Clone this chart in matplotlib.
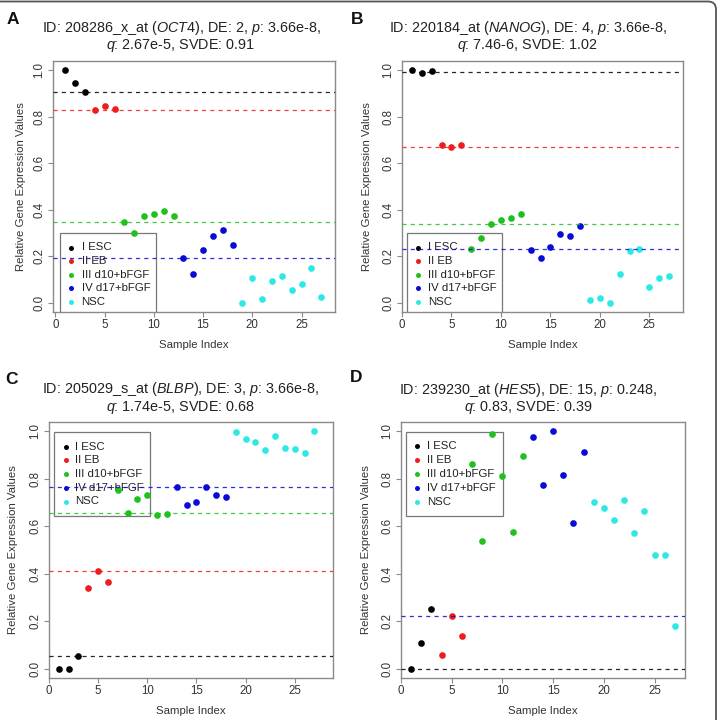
import matplotlib.pyplot as plt
import numpy as np
from matplotlib.patches import FancyBboxPatch, Rectangle

plt.rcParams["font.family"] = "Liberation Sans"
plt.rcParams["mathtext.fontset"] = "custom"
plt.rcParams["mathtext.rm"] = "Liberation Sans"
plt.rcParams["mathtext.it"] = "Liberation Sans:italic"

W, H = 719, 720  # figure size in pixels (dpi 100)

# ----------------------------------------------------------------- data
group_names = ["I ESC", "II EB", "III d10+bFGF", "IV d17+bFGF", "NSC"]
group_colors = ["#000000", "#ee1c1c", "#1fc01f", "#0a0ad6", "#2ee8e8"]
group_sizes = [3, 3, 6, 6, 9]

oct4 = [1.0, 0.947, 0.905, 0.828, 0.848, 0.833,
        0.348, 0.299, 0.371, 0.382, 0.395, 0.371,
        0.193, 0.124, 0.227, 0.286, 0.312, 0.249,
        0.0, 0.106, 0.017, 0.093, 0.116, 0.055, 0.080, 0.149, 0.023]
nanog = [1.0, 0.990, 0.999, 0.680, 0.668, 0.680,
         0.230, 0.277, 0.338, 0.356, 0.364, 0.382,
         0.228, 0.193, 0.241, 0.296, 0.289, 0.328,
         0.010, 0.020, 0.0, 0.124, 0.223, 0.231, 0.066, 0.105, 0.115]
blbp = [0.0, 0.0, 0.054, 0.338, 0.412, 0.366,
        0.753, 0.655, 0.716, 0.733, 0.648, 0.651,
        0.766, 0.691, 0.703, 0.766, 0.732, 0.723,
        0.996, 0.970, 0.956, 0.921, 0.983, 0.929, 0.924, 0.910, 1.0]
hes5 = [0.0, 0.107, 0.250, 0.058, 0.222, 0.137,
        0.864, 0.537, 0.990, 0.814, 0.576, 0.897,
        0.976, 0.774, 1.0, 0.815, 0.612, 0.912,
        0.701, 0.678, 0.627, 0.712, 0.572, 0.664, 0.480, 0.480, 0.181]

# dashed reference levels per panel: group index -> value
oct4_levels = {0: 0.905, 1: 0.828, 2: 0.348, 3: 0.193}
nanog_levels = {0: 0.994, 1: 0.671, 2: 0.338, 3: 0.230}
blbp_levels = {0: 0.054, 1: 0.412, 2: 0.655, 3: 0.766}
hes5_levels = {0: 0.0, 3: 0.222}

panels = [
    dict(letter="A", values=oct4, levels=oct4_levels,
         line1=r"ID: 208286_x_at ($\mathit{OCT4}$), DE: 2, $\mathit{p}$: 3.66e-8,",
         line2=r"$\mathit{q}$: 2.67e-5, SVDE: 0.91"),
    dict(letter="B", values=nanog, levels=nanog_levels,
         line1=r"ID: 220184_at ($\mathit{NANOG}$), DE: 4, $\mathit{p}$: 3.66e-8,",
         line2=r"$\mathit{q}$: 7.46-6, SVDE: 1.02"),
    dict(letter="C", values=blbp, levels=blbp_levels,
         line1=r"ID: 205029_s_at ($\mathit{BLBP}$), DE: 3, $\mathit{p}$: 3.66e-8,",
         line2=r"$\mathit{q}$: 1.74e-5, SVDE: 0.68"),
    dict(letter="D", values=hes5, levels=hes5_levels,
         line1=r"ID: 239230_at ($\mathit{HES5}$), DE: 15, $\mathit{p}$: 0.248,",
         line2=r"$\mathit{q}$: 0.83, SVDE: 0.39"),
]

# ----------------------------------------------------------------- layout (pixels)
layout = [
    dict(box=(53, 61, 335, 312), xlim=(-0.25, 28.4), letter=(12.5, 19),
         title_x=181, title_y=(28, 46), ylab_x=21, xlab_y=345,
         leg_box=(60, 232.5, 155.5, 322), leg_y0=247.5, leg_dy=13.6,
         leg_mx=70.5, leg_tx=81.5),
    dict(box=(402, 61, 683, 312), xlim=(0.0, 28.4), letter=(357, 19),
         title_x=528, title_y=(28, 46), ylab_x=367, xlab_y=345,
         leg_box=(407, 233, 502, 322), leg_y0=247.5, leg_dy=13.6,
         leg_mx=417.5, leg_tx=428),
    dict(box=(49, 422, 333, 678), xlim=(0.0, 28.9), letter=(12, 379),
         title_x=181, title_y=(389, 408), ylab_x=12.5, xlab_y=711,
         leg_box=(53.5, 432, 150, 515.5), leg_y0=446.7, leg_dy=13.7,
         leg_mx=65.5, leg_tx=75),
    dict(box=(401, 422, 685, 678), xlim=(0.0, 28.0), letter=(356, 377),
         title_x=528, title_y=(390, 408), ylab_x=366, xlab_y=711,
         leg_box=(406, 431.5, 502.5, 515.5), leg_y0=446, leg_dy=13.9,
         leg_mx=416.5, leg_tx=427),
]

GRAY = "#8a8a8a"
TXT = "#333333"


def fx(x):
    return x / W


def fy(y):
    return 1 - y / H


fig = plt.figure(figsize=(W / 100, H / 100), dpi=100)

x = np.arange(1, 28)
group = np.repeat(np.arange(len(group_sizes)), group_sizes)

for p, lay in zip(panels, layout):
    l, t, r, b = lay["box"]
    ax = fig.add_axes([fx(l), fy(b), (r - l) / W, (b - t) / H])
    vals = np.array(p["values"])

    # legend first (R draws it before the ablines), clipped to the plot region
    ll, lt, lr, lb = lay["leg_box"]
    ax.add_patch(Rectangle((fx(ll), fy(lb)), (lr - ll) / W, (lb - lt) / H,
                           transform=fig.transFigure, fill=False, ec="#777777",
                           lw=0.9, zorder=1))
    for i, (name, col) in enumerate(zip(group_names, group_colors)):
        yy = lay["leg_y0"] + i * lay["leg_dy"]
        ax.plot(fx(lay["leg_mx"]), fy(yy), "o", color=col, ms=3.6, mec="none",
                transform=fig.transFigure, clip_on=False, zorder=2)
        ax.text(fx(lay["leg_tx"]), fy(yy), name, transform=fig.transFigure,
                fontsize=8.2, color="#222222", ha="left", va="center", zorder=2)

    # points
    for g, col in enumerate(group_colors):
        m = group == g
        ax.plot(x[m], vals[m], "o", color=col, ms=4.8, mec="none", zorder=3)

    # dashed group levels
    for g, lv in p["levels"].items():
        ax.axhline(lv, color=group_colors[g], lw=0.9, ls=(0, (3.3, 3.3)),
                   alpha=0.85, zorder=4)

    ax.set_xlim(*lay["xlim"])
    ax.set_ylim(-0.04, 1.04)
    ax.set_xticks([0, 5, 10, 15, 20, 25])
    ax.set_yticks([0.0, 0.2, 0.4, 0.6, 0.8, 1.0])
    ax.set_yticklabels(["0.0", "0.2", "0.4", "0.6", "0.8", "1.0"],
                       rotation=90, va="center")
    ax.tick_params(length=3.6, width=0.8, color=GRAY, labelcolor=TXT,
                   labelsize=8.3, pad=1.8)
    for s in ax.spines.values():
        s.set_color(GRAY)
        s.set_linewidth(1.0)

    ax.set_xlabel("Sample Index", fontsize=8.2, color=TXT, va="center")
    ax.xaxis.set_label_coords(0.5, (b - lay["xlab_y"]) / (b - t))
    ax.set_ylabel("Relative Gene Expression Values", fontsize=8.2, color=TXT,
                  va="center")
    ax.yaxis.set_label_coords((lay["ylab_x"] - l) / (r - l), 0.5)

    # title (two lines) and panel letter
    fig.text(fx(lay["title_x"]), fy(lay["title_y"][0]), p["line1"],
             fontsize=10.4, color="#222222", ha="center", va="center")
    fig.text(fx(lay["title_x"]), fy(lay["title_y"][1]), p["line2"],
             fontsize=10.4, color="#222222", ha="center", va="center")
    fig.text(fx(lay["letter"][0]), fy(lay["letter"][1]), p["letter"],
             fontsize=12.5, fontweight="bold", color="#111111",
             ha="center", va="center")

# outer frame: only the top and right edges fall inside the image
fig.add_artist(FancyBboxPatch((fx(-30), fy(760)), (716 + 30) / W, (760 - 1.5) / H,
                              boxstyle="round,pad=0,rounding_size=0.011",
                              transform=fig.transFigure, fill=False,
                              ec="#555555", lw=1.3))

fig.savefig("out.png", dpi=100)
